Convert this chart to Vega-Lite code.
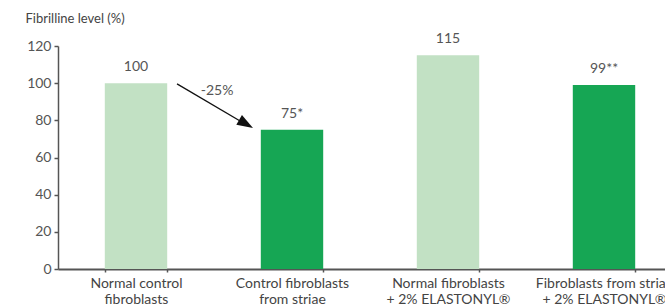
{
  "$schema": "https://vega.github.io/schema/vega-lite/v6.json",
  "autosize": "none",
  "width": 624,
  "height": 223,
  "padding": {"left": 58, "top": 46, "right": 0, "bottom": 38},
  "background": "white",
  "config": {
    "view": {"stroke": null},
    "font": "Lato, Liberation Sans, sans-serif",
    "axisY": {
      "grid": false, "labelOverlap": false,
      "titleAngle": 0, "titleAlign": "left", "titleBaseline": "middle",
      "titleX": -33, "titleY": -28,
      "titleFontSize": 13, "titleFontWeight": "normal", "titleColor": "#444",
      "labelFontSize": 14, "labelColor": "#555", "labelPadding": 3,
      "domainColor": "#555", "domainWidth": 1.5,
      "tickColor": "#555", "tickSize": 4, "tickWidth": 1.5
    }
  },
  "datasets": {
    "bars": [
      {"group": "Normal control|fibroblasts", "value": 100, "label": "100", "kind": "normal"},
      {"group": "Control fibroblasts|from striae", "value": 75, "label": "75*", "kind": "striae"},
      {"group": "Normal fibroblasts|+ 2% ELASTONYL®", "value": 115, "label": "115", "kind": "normal"},
      {"group": "Fibroblasts from striae|+ 2% ELASTONYL®", "value": 99, "label": "99**", "kind": "striae"}
    ],
    "arrow": [
      {"x": 0.763, "y": 99.6, "x2": 1.2, "y2": 78.0}
    ],
    "head": [
      {"x": 1.25, "y": 75.9}
    ],
    "note": [
      {"x": 1.02, "y": 95.8, "text": "-25%"}
    ]
  },
  "layer": [
    {
      "data": {"name": "bars"},
      "layer": [
        {
          "mark": {"type": "bar"},
          "encoding": {
            "x": {
              "field": "group", "type": "nominal", "sort": null,
              "scale": {"paddingInner": 0.6, "paddingOuter": 0.3},
              "axis": {
                "title": null, "labelAngle": 0,
                "labelExpr": "isValid(datum.value) ? split(datum.value, '|') : ''",
                "labelFontSize": 14, "labelColor": "#444", "labelLineHeight": 16,
                "labelPadding": 4, "labelBaseline": "top", "labelOverlap": false,
                "domainColor": "#555", "domainWidth": 2,
                "tickBand": "extent", "tickColor": "#555", "tickSize": 3, "tickWidth": 1.5
              }
            },
            "y": {
              "field": "value", "type": "quantitative",
              "scale": {"domain": [0, 120], "nice": false},
              "title": "Fibrilline level (%)",
              "axis": {"values": [0, 20, 40, 60, 80, 100, 120]}
            },
            "color": {
              "field": "kind", "type": "nominal",
              "scale": {"domain": ["normal", "striae"], "range": ["#c2e1c4", "#16a654"]},
              "legend": null
            }
          }
        },
        {
          "mark": {"type": "text", "dy": -16, "fontSize": 14, "color": "#555"},
          "encoding": {
            "x": {"field": "group", "type": "nominal", "sort": null},
            "y": {"field": "value", "type": "quantitative", "axis": {"values": [0, 20, 40, 60, 80, 100, 120]}},
            "text": {"field": "label"}
          }
        }
      ]
    },
    {
      "data": {"name": "arrow"},
      "mark": {"type": "rule", "color": "#111", "strokeWidth": 1.3},
      "encoding": {
        "x": {"field": "x", "type": "quantitative", "scale": {"domain": [0, 4], "nice": false, "zero": false}, "axis": null},
        "y": {"field": "y", "type": "quantitative", "scale": {"domain": [0, 120], "nice": false}, "axis": {"values": [0, 20, 40, 60, 80, 100, 120]}},
        "x2": {"field": "x2"},
        "y2": {"field": "y2"}
      }
    },
    {
      "data": {"name": "head"},
      "mark": {"type": "point", "filled": true, "color": "#111", "opacity": 1, "shape": "M0,0L-2,-0.7L-2,0.7Z", "size": 256, "angle": 30},
      "encoding": {
        "x": {"field": "x", "type": "quantitative", "scale": {"domain": [0, 4], "nice": false, "zero": false}, "axis": null},
        "y": {"field": "y", "type": "quantitative", "scale": {"domain": [0, 120], "nice": false}, "axis": {"values": [0, 20, 40, 60, 80, 100, 120]}}
      }
    },
    {
      "data": {"name": "note"},
      "mark": {"type": "text", "fontSize": 14, "color": "#555"},
      "encoding": {
        "x": {"field": "x", "type": "quantitative", "scale": {"domain": [0, 4], "nice": false, "zero": false}, "axis": null},
        "y": {"field": "y", "type": "quantitative", "scale": {"domain": [0, 120], "nice": false}, "axis": {"values": [0, 20, 40, 60, 80, 100, 120]}},
        "text": {"field": "text"}
      }
    }
  ],
  "resolve": {"scale": {"x": "independent"}, "axis": {"x": "independent"}}
}
